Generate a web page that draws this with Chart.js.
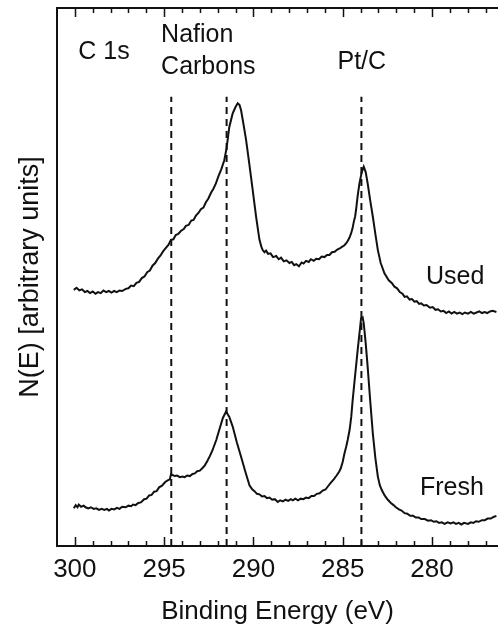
<!DOCTYPE html>
<html>
<head>
<meta charset="utf-8">
<script src="https://cdn.jsdelivr.net/npm/chart.js@4"></script>
<style>
  html, body { margin: 0; padding: 0; background: #fff; }
  #wrap { width: 498px; height: 627px; }
</style>
</head>
<body>
<div id="wrap"><canvas id="xps"></canvas></div>
<script>
// binding energy (eV) and intensity (arbitrary units)
const usedEnergy = [300.06, 299.90, 299.75, 299.60, 299.44, 299.30, 299.15, 299.00, 298.84, 298.70,
  298.55, 298.40, 298.25, 298.10, 297.95, 297.80, 297.65, 297.50, 297.35, 297.15,
  297.00, 296.85, 296.70, 296.55, 296.40, 296.25, 296.10, 295.95, 295.80, 295.65,
  295.50, 295.35, 295.20, 295.05, 294.90, 294.75, 294.62, 294.48, 294.35, 294.21,
  294.05, 293.90, 293.78, 293.62, 293.48, 293.35, 293.22, 293.08, 292.94, 292.80,
  292.66, 292.52, 292.38, 292.24, 292.10, 291.95, 291.80, 291.63, 291.50, 291.35,
  291.16, 291.00, 290.88, 290.78, 290.69, 290.55, 290.41, 290.22, 290.04, 289.85,
  289.66, 289.55, 289.48, 289.38, 289.29, 289.18, 289.04, 288.90, 288.72, 288.58,
  288.45, 288.30, 288.15, 287.98, 287.85, 287.72, 287.60, 287.45, 287.30, 287.19,
  287.05, 286.90, 286.78, 286.62, 286.48, 286.32, 286.18, 286.02, 285.88, 285.74,
  285.60, 285.45, 285.30, 285.17, 285.04, 284.90, 284.80, 284.72, 284.62, 284.53,
  284.45, 284.38, 284.30, 284.25, 284.16, 284.06, 283.93, 283.82, 283.71, 283.60,
  283.46, 283.31, 283.17, 283.03, 282.87, 282.66, 282.42, 282.25, 282.10, 281.95,
  281.80, 281.65, 281.53, 281.40, 281.25, 281.12, 280.98, 280.85, 280.72, 280.60,
  280.45, 280.30, 280.11, 279.96, 279.80, 279.66, 279.50, 279.35, 279.20, 279.05,
  278.90, 278.75, 278.60, 278.45, 278.30, 278.15, 277.98, 277.82, 277.66, 277.50,
  277.35, 277.20, 277.05, 276.90, 276.75, 276.60, 276.39];
const usedCounts = [47.6, 48.0, 47.5, 47.7, 47.2, 47.4, 47.0, 47.3, 46.9, 47.2,
  47.0, 47.5, 47.2, 47.4, 47.1, 47.4, 47.2, 47.5, 47.4, 47.8,
  47.9, 48.4, 48.3, 48.9, 49.1, 49.8, 50.1, 50.9, 51.2, 52.1,
  52.6, 53.4, 54.0, 54.8, 55.4, 56.0, 56.9, 57.0, 57.8, 58.0,
  58.6, 58.9, 59.5, 59.7, 60.5, 60.6, 61.4, 61.9, 62.6, 62.9,
  63.9, 64.6, 65.6, 66.4, 67.4, 68.8, 70.0, 71.7, 74.0, 77.9,
  80.4, 81.6, 82.3, 82.0, 81.0, 78.3, 75.5, 70.8, 66.2, 61.2,
  56.9, 55.6, 55.0, 54.6, 54.9, 54.3, 54.4, 53.7, 53.9, 53.3,
  53.6, 52.9, 53.1, 52.6, 52.8, 52.2, 52.4, 52.0, 52.7, 52.5,
  53.0, 52.8, 53.3, 53.0, 53.4, 53.3, 53.8, 53.7, 54.1, 54.1,
  54.6, 54.7, 55.1, 55.3, 55.6, 55.9, 56.3, 56.7, 57.3, 58.1,
  59.0, 60.2, 61.3, 62.5, 65.1, 67.4, 69.5, 70.5, 69.5, 67.4,
  64.3, 61.2, 58.0, 55.0, 52.6, 50.7, 49.4, 48.9, 48.2, 47.9,
  47.2, 46.9, 46.3, 46.4, 45.8, 45.9, 45.4, 45.5, 45.0, 45.1,
  44.7, 44.8, 44.3, 44.4, 43.9, 44.0, 43.6, 43.7, 43.3, 43.6,
  43.2, 43.5, 43.2, 43.4, 43.1, 43.4, 43.2, 43.5, 43.2, 43.4,
  43.6, 43.3, 43.5, 43.3, 43.6, 43.7, 43.5];

const freshEnergy = [300.06, 299.95, 299.85, 299.78, 299.65, 299.50, 299.40, 299.25, 299.10, 298.95,
  298.80, 298.65, 298.50, 298.35, 298.20, 298.09, 297.95, 297.80, 297.64, 297.50,
  297.35, 297.15, 297.00, 296.85, 296.74, 296.60, 296.45, 296.30, 296.12, 295.98,
  295.84, 295.70, 295.56, 295.42, 295.28, 295.12, 294.94, 294.80, 294.68, 294.62,
  294.53, 294.40, 294.27, 294.12, 293.97, 293.85, 293.71, 293.56, 293.41, 293.28,
  293.15, 293.00, 292.85, 292.72, 292.58, 292.44, 292.29, 292.08, 291.91, 291.71,
  291.53, 291.35, 291.16, 290.93, 290.69, 290.45, 290.22, 290.08, 289.94, 289.80,
  289.66, 289.52, 289.38, 289.24, 289.10, 288.95, 288.80, 288.63, 288.50, 288.35,
  288.20, 288.05, 287.90, 287.79, 287.65, 287.50, 287.35, 287.20, 287.05, 286.90,
  286.75, 286.60, 286.45, 286.29, 286.12, 285.96, 285.80, 285.66, 285.50, 285.34,
  285.20, 285.11, 285.00, 284.90, 284.80, 284.72, 284.61, 284.52, 284.44, 284.30,
  284.16, 284.04, 283.97, 283.88, 283.82, 283.71, 283.60, 283.46, 283.31, 283.17,
  283.03, 282.92, 282.81, 282.65, 282.47, 282.30, 282.15, 282.02, 281.85, 281.70,
  281.53, 281.38, 281.22, 281.05, 280.90, 280.75, 280.60, 280.40, 280.22, 280.05,
  279.90, 279.75, 279.60, 279.45, 279.29, 279.12, 278.95, 278.80, 278.65, 278.50,
  278.35, 278.20, 277.98, 277.82, 277.68, 277.53, 277.38, 277.20, 277.04, 276.88,
  276.70, 276.55, 276.39];
const freshCounts = [7.0, 7.6, 7.2, 7.7, 7.3, 7.5, 7.2, 7.0, 7.2, 6.9,
  7.0, 6.7, 6.9, 6.7, 6.9, 6.6, 6.9, 6.8, 7.1, 6.9,
  7.3, 7.2, 7.5, 7.4, 7.7, 7.6, 8.0, 8.1, 8.7, 8.8,
  9.4, 9.5, 10.1, 10.2, 10.9, 11.2, 11.9, 12.2, 12.4, 13.3,
  13.2, 13.0, 13.1, 12.8, 12.9, 12.8, 13.1, 13.0, 13.4, 13.5,
  13.9, 14.0, 14.5, 15.0, 15.8, 16.7, 17.8, 19.7, 21.6, 23.8,
  25.0, 24.0, 22.2, 19.3, 16.6, 13.8, 11.3, 10.6, 10.2, 9.7,
  9.6, 9.2, 9.3, 8.9, 9.0, 8.6, 8.7, 8.2, 8.5, 8.3,
  8.6, 8.4, 8.7, 8.5, 8.8, 8.5, 8.8, 8.7, 9.0, 8.9,
  9.3, 9.3, 9.7, 9.8, 10.3, 10.5, 11.2, 11.8, 12.4, 13.1,
  13.8, 14.4, 15.6, 17.2, 18.5, 19.7, 21.6, 24.0, 27.1, 31.8,
  36.4, 40.1, 42.3, 42.5, 41.4, 37.7, 33.3, 27.1, 20.9, 16.4,
  12.9, 11.3, 10.4, 9.4, 8.6, 8.0, 7.6, 7.2, 6.8, 6.6,
  6.1, 6.0, 5.6, 5.6, 5.3, 5.3, 5.0, 5.0, 4.7, 4.8,
  4.5, 4.6, 4.3, 4.4, 4.1, 4.4, 4.2, 4.4, 4.1, 4.3,
  4.0, 4.3, 4.1, 4.4, 4.3, 4.6, 4.5, 4.8, 4.8, 5.1,
  5.1, 5.4, 5.6];

// reference lines at the component energies
const markerEnergy = [294.6, 291.5, 283.95];
const markerTop = 83.5;

const xTicks = [300, 295, 290, 285, 280];

const FONT = "'Liberation Sans', Arial, sans-serif";
const INK = "#111";

const pts = (xs, ys) => xs.map((x, i) => ({ x: x, y: ys[i] }));

const datasets = [
  { label: "Used", data: pts(usedEnergy, usedCounts) },
  { label: "Fresh", data: pts(freshEnergy, freshCounts) },
].map((d) => Object.assign(d, {
  borderColor: INK, borderWidth: 2, pointRadius: 0, tension: 0, fill: false,
}));

markerEnergy.forEach((e) => {
  datasets.push({
    label: "marker", data: [{ x: e, y: 0 }, { x: e, y: markerTop }],
    borderColor: INK, borderWidth: 2, borderDash: [7, 5], pointRadius: 0,
  });
});

// annotations placed in data coordinates
const notes = [
  { text: "C 1s", x: 298.37, y: 91.8, align: "center" },
  { text: "Nafion", x: 295.17, y: 95.0, align: "left" },
  { text: "Carbons", x: 295.17, y: 89.0, align: "left" },
  { text: "Pt/C", x: 283.93, y: 90.0, align: "center" },
  { text: "Used", x: 278.7, y: 50.0, align: "center" },
  { text: "Fresh", x: 278.88, y: 10.8, align: "center" },
];

const frame = {
  id: "frame",
  afterDraw(chart) {
    const { ctx, chartArea: a, scales } = chart;
    const x = scales.x;
    ctx.save();
    ctx.strokeStyle = INK;
    ctx.lineWidth = 2;
    ctx.beginPath();
    ctx.moveTo(a.left, a.top);
    ctx.lineTo(a.right, a.top);
    ctx.stroke();
    // inward ticks on bottom and top axes, 1 eV minor, 5 eV major
    ctx.lineWidth = 1.5;
    for (let e = 277; e <= 300; e++) {
      const px = Math.round(x.getPixelForValue(e)) + 0.5;
      const len = e % 5 === 0 ? 9 : 5;
      ctx.beginPath();
      ctx.moveTo(px, a.bottom);
      ctx.lineTo(px, a.bottom - len);
      ctx.moveTo(px, a.top);
      ctx.lineTo(px, a.top + len);
      ctx.stroke();
    }
    ctx.fillStyle = INK;
    ctx.font = "25px " + FONT;
    ctx.textBaseline = "middle";
    notes.forEach((n) => {
      ctx.textAlign = n.align;
      ctx.fillText(n.text, x.getPixelForValue(n.x), scales.y.getPixelForValue(n.y));
    });
    ctx.restore();
  },
};

new Chart(document.getElementById("xps"), {
  type: "line",
  data: { datasets: datasets },
  options: {
    responsive: true,
    maintainAspectRatio: false,
    animation: false,
    layout: { padding: { top: 8, right: 0, left: 0, bottom: 0 } },
    plugins: { legend: { display: false }, tooltip: { enabled: false } },
    scales: {
      x: {
        type: "linear",
        reverse: true,
        min: 276.3,
        max: 301,
        afterBuildTicks: (s) => { s.ticks = xTicks.map((v) => ({ value: v })); },
        afterFit: (s) => { s.height = 81; },
        grid: { display: false },
        border: { display: true, color: INK, width: 2 },
        ticks: {
          color: INK, font: { family: FONT, size: 26 }, padding: 0, maxRotation: 0,
          autoSkip: false,
        },
        title: {
          display: true, text: "Binding Energy (eV)", color: INK,
          font: { family: FONT, size: 26 }, padding: { top: 0, bottom: 0 },
        },
      },
      y: {
        min: 0,
        max: 100,
        afterFit: (s) => { s.width = 57; },
        grid: { display: false },
        border: { display: true, color: INK, width: 2 },
        ticks: { display: false },
        title: {
          display: true, text: "N(E) [arbitrary units]", color: INK,
          font: { family: FONT, size: 27 }, padding: { top: 14, bottom: 0 },
        },
      },
    },
  },
  plugins: [frame],
});
</script>
</body>
</html>
